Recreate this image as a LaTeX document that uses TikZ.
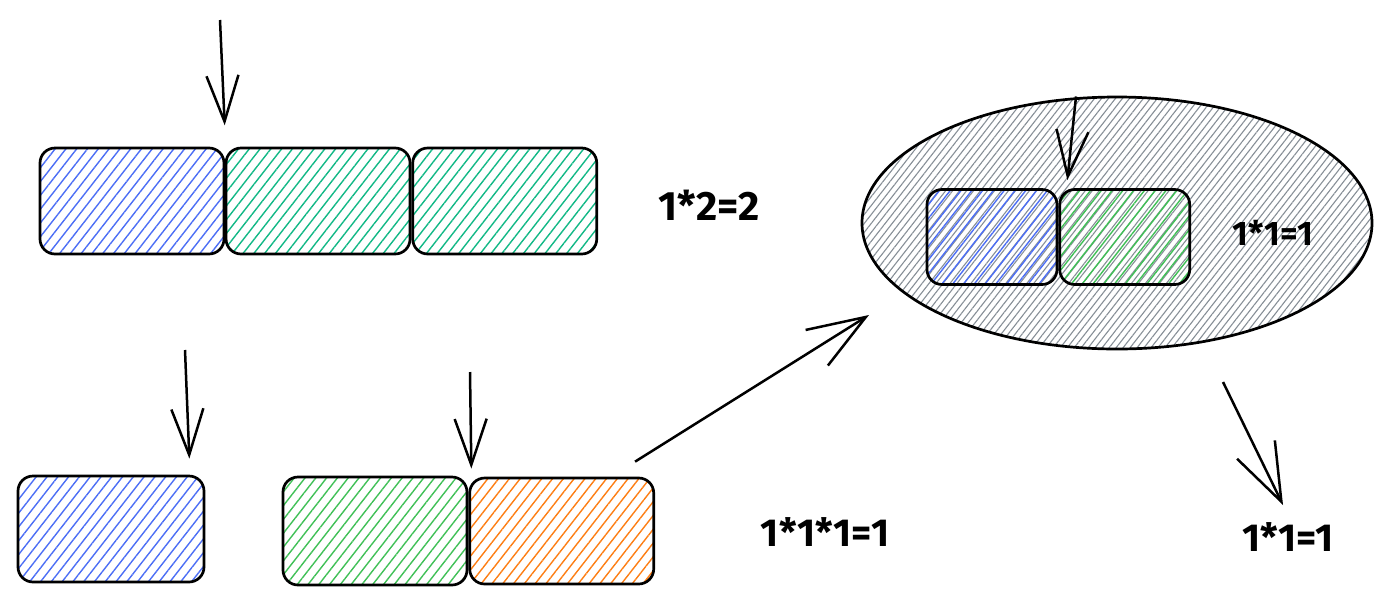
\documentclass[tikz,border=0pt]{standalone}
\usepackage{fontspec}
\setmainfont{Fira Sans}
\usetikzlibrary{arrows.meta,patterns.meta,shapes.geometric,positioning}

\definecolor{hblue}{HTML}{4C6EF5}
\definecolor{hteal}{HTML}{12B886}
\definecolor{hgreen}{HTML}{40C057}
\definecolor{horange}{HTML}{FD7E14}
\definecolor{hgray}{HTML}{868E96}

\tikzset{
	blk/.style={draw=black, line width=2.7pt, rounded corners=15pt, inner sep=0pt,
		minimum width=184pt, minimum height=106pt},
	hatch/.style={pattern={Lines[angle=52,distance=8.5pt,line width=1.4pt]}, pattern color=#1},
	sk/.style={line width=2.5pt, -{Straight Barb[length=46pt,width=32pt]}},
	skbig/.style={line width=2.5pt, -{Straight Barb[length=58pt,width=42pt]}},
	res/.style={font=\fontsize{39}{44}\selectfont\bfseries, inner sep=0pt}
}

\begin{document}
\begin{tikzpicture}[x=1pt, y=-1pt]
			%%%%% START %%%%%
			\useasboundingbox (0,0) rectangle (1399,606);
			
			% top row
			\node[blk, hatch=hblue] (b1) at (132,201) {};
			\node[blk, hatch=hteal, right=0pt of b1] (b2) {};
			\node[blk, hatch=hteal, right=0pt of b2] (b3) {};
			\node[res, font=\fontsize{41}{46}\selectfont\bfseries] (t1) at (709,205) {1*2=2};
			
			% the big ellipse
			\node[ellipse, draw=black, line width=2.7pt, inner sep=0pt, minimum width=510pt, minimum height=252pt,
				pattern={Lines[angle=52,distance=5.5pt,line width=1.1pt]}, pattern color=hgray] (e) at (1117,223) {};
			\node[blk, hatch=hblue, minimum width=130pt, minimum height=95pt] (d1) at (992,237) {};
			\node[blk, hatch=hgreen, minimum width=130pt, minimum height=95pt, right=0pt of d1] (d2) {};
			\node[res, font=\fontsize{34}{40}\selectfont\bfseries] (t2) at (1273,233) {1*1=1};
			
			% bottom row
			\node[blk, hatch=hblue, minimum width=186pt] (c1) at (111,529) {};
			\node[blk, hatch=hgreen, minimum height=108pt] (c2) at (375,531) {};
			\node[blk, hatch=horange, right=0pt of c2] (c3) {};
			\node[res] (t3) at (825,532) {1*1*1=1};
			\node[res] (t4) at (1288,537) {1*1=1};
			
			% arrows
			\coordinate (p1) at (220,20);
			\coordinate (p2) at (185,350);
			\coordinate (p3) at (470,372);
			\coordinate (p4) at ([shift={(-20pt,15pt)}]c3.north east);
			\coordinate (q4) at (869,315);
			\coordinate (p5) at ([xshift=-41pt]e.north);
			\coordinate (p6) at (1223,382);
			\coordinate (q6) at (1283,505);
			
			\draw[sk] (p1) -- ([yshift=22pt]b1.north east);
			\draw[sk] (p2) -- ([shift={(-16pt,16pt)}]c1.north east);
			\draw[sk] (p3) -- ([shift={(3pt,7pt)}]c2.north east);
			\draw[skbig] (p4) -- (q4);
			\draw[sk] (p5) -- ([shift={(9pt,8pt)}]d1.north east);
			\draw[skbig] (p6) -- (q6);
			
			%%%%% END %%%%%
\end{tikzpicture}
\end{document}
